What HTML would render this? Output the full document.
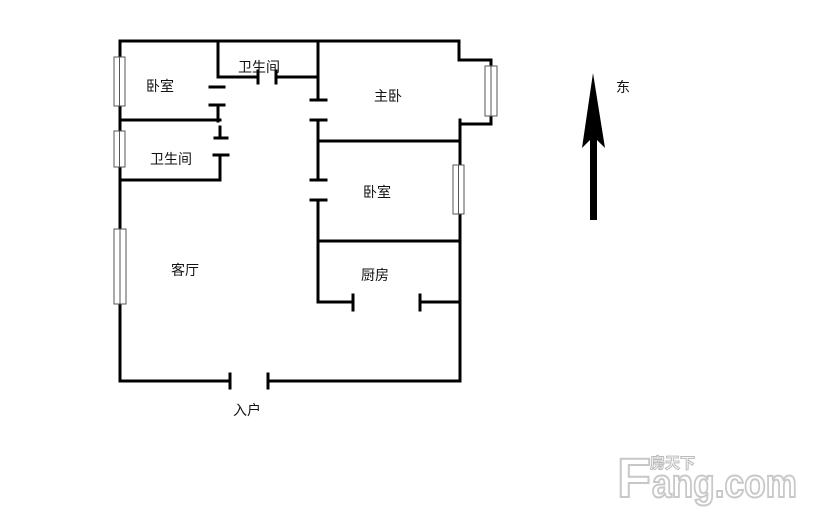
<!DOCTYPE html>
<html><head><meta charset="utf-8"><style>
body{margin:0;background:#fff;}
svg{display:block}
text{font-family:"Liberation Sans","Noto Sans CJK SC",sans-serif;font-size:14px;fill:#111}
</style></head><body>
<svg width="814" height="519" viewBox="0 0 814 519" xmlns="http://www.w3.org/2000/svg">
<g stroke="#000" stroke-width="3" fill="none" stroke-linecap="square">
<path d="M120 41 H459 V60 H491 V120 M491 118 V124 H461 M460 120 V381 H268 M230 381 H120 V41"/>
<path d="M218 41 V77 H258 M276 77 H317"/>
<path d="M318 41 V100 M318 120 V180 M318 200 V302 H353 M420 302 H458"/>
<path d="M318 141 H460 M318 241 H458"/>
<path d="M218 105 V121 M120 120 H220 M220 127 V138 M220 155 V180 H120"/>
<path d="M210 87 H224 M210 105 H224 M215 138 H227 M214 155 H228 M311 100 H326 M311 120 H326 M311 180 H326 M311 200 H326"/>
<path d="M258 71 V83 M276 71 V83 M353 295 V310 M420 295 V310 M230 374 V388 M268 374 V388"/>
</g>
<g stroke="#555" stroke-width="1" fill="#fff">
<rect x="114" y="57" width="11" height="49"/><line x1="119.5" y1="57" x2="119.5" y2="106"/>
<rect x="114" y="131" width="11" height="36"/><line x1="119.5" y1="131" x2="119.5" y2="167"/>
<rect x="114" y="229" width="12" height="75"/><line x1="120" y1="229" x2="120" y2="304"/>
<rect x="453" y="165" width="11" height="49"/><line x1="458.5" y1="165" x2="458.5" y2="214"/>
<rect x="485" y="66" width="12" height="50"/><line x1="491" y1="66" x2="491" y2="116"/>
</g>
<polygon points="593,73 605,148 597,140 597,220 590,220 590,140 582,148" fill="#000"/>
<text x="146" y="91">卧室</text>
<text x="238" y="72">卫生间</text>
<text x="374" y="101">主卧</text>
<text x="150" y="164">卫生间</text>
<text x="363" y="197">卧室</text>
<text x="171" y="275">客厅</text>
<text x="361" y="280">厨房</text>
<text x="233" y="415">入户</text>
<text x="616" y="92">东</text>
<g stroke="#c8c8c8" stroke-width="2" font-weight="bold">
<text x="617" y="497" style="font-size:56px;fill:#fff" stroke="#c8c8c8">F</text>
<text x="652" y="497" textLength="145" lengthAdjust="spacingAndGlyphs" style="font-size:40px;fill:#fff" stroke="#c8c8c8">ang.com</text>
<text x="650" y="468" style="font-size:15px;fill:#fff" stroke-width="1" stroke="#bbb">房天下</text>
</g>
</svg>
</body></html>
